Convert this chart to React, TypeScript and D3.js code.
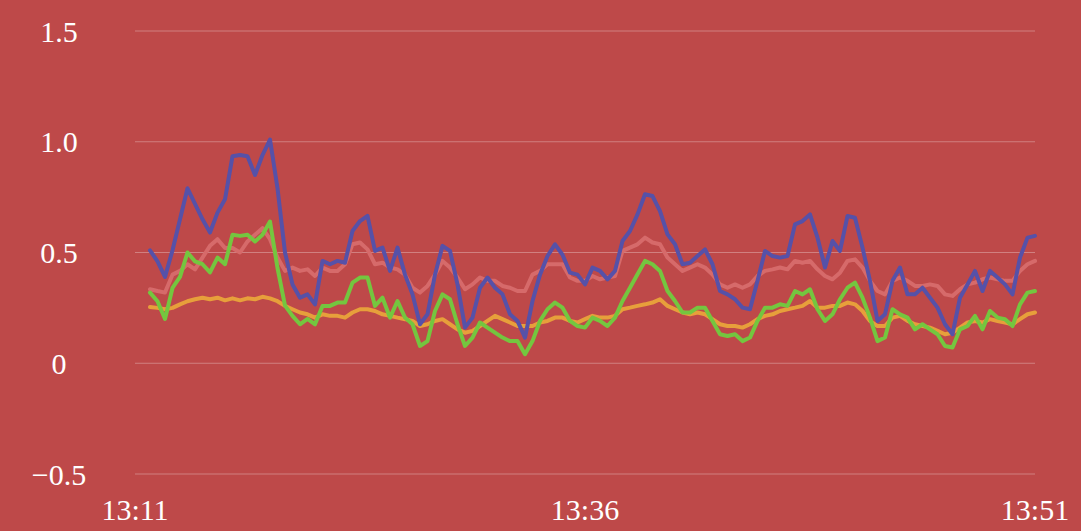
import React, { useRef, useEffect } from 'react';
import * as d3 from 'd3';

// series values, one sample every few seconds from 13:11 to 13:51
const blue = [
  0.51, 0.46, 0.39, 0.51, 0.65, 0.79, 0.72, 0.65, 0.59, 0.68, 0.74, 0.935, 0.94, 0.935, 0.85, 0.94, 1.01, 0.79,
  0.5, 0.356, 0.296, 0.311, 0.266, 0.462, 0.447, 0.462, 0.454, 0.597, 0.642, 0.665, 0.507, 0.522, 0.417, 0.522, 0.4, 0.311, 0.176, 0.221,
  0.4, 0.53, 0.507, 0.356, 0.161, 0.206, 0.341, 0.387, 0.341, 0.311, 0.221, 0.191, 0.116, 0.281, 0.4, 0.484, 0.537, 0.49, 0.409, 0.4,
  0.356, 0.432, 0.417, 0.379, 0.417, 0.552, 0.597, 0.672, 0.763, 0.755, 0.687, 0.582, 0.537, 0.447, 0.454, 0.484, 0.514, 0.447, 0.326, 0.311,
  0.289, 0.251, 0.244, 0.372, 0.507, 0.484, 0.477, 0.484, 0.627, 0.642, 0.672, 0.567, 0.432, 0.552, 0.507, 0.665, 0.657, 0.522, 0.372, 0.191,
  0.221, 0.372, 0.432, 0.311, 0.311, 0.341, 0.296, 0.251, 0.176, 0.131, 0.296, 0.356, 0.417, 0.326, 0.417, 0.387, 0.356, 0.311, 0.477, 0.567, 0.575,
];

const pink = [
  0.334, 0.326, 0.319, 0.4, 0.417, 0.447, 0.424, 0.477, 0.53, 0.56, 0.52, 0.52, 0.5, 0.55, 0.58, 0.61, 0.56, 0.477,
  0.417, 0.432, 0.417, 0.424, 0.394, 0.432, 0.417, 0.417, 0.447, 0.537, 0.545, 0.514, 0.447, 0.454, 0.432, 0.424, 0.4, 0.341, 0.319, 0.349,
  0.4, 0.462, 0.432, 0.387, 0.334, 0.356, 0.387, 0.372, 0.372, 0.349, 0.341, 0.326, 0.326, 0.4, 0.417, 0.447, 0.447, 0.447, 0.387, 0.372,
  0.372, 0.394, 0.379, 0.387, 0.394, 0.507, 0.522, 0.537, 0.567, 0.545, 0.537, 0.477, 0.447, 0.417, 0.432, 0.447, 0.432, 0.4, 0.356, 0.341,
  0.356, 0.341, 0.356, 0.394, 0.417, 0.424, 0.432, 0.424, 0.462, 0.454, 0.462, 0.424, 0.394, 0.379, 0.409, 0.462, 0.469, 0.432, 0.372, 0.326,
  0.311, 0.372, 0.387, 0.372, 0.349, 0.349, 0.356, 0.349, 0.311, 0.304, 0.334, 0.356, 0.364, 0.379, 0.387, 0.379, 0.372, 0.372, 0.417, 0.447, 0.462,
];

const green = [
  0.319, 0.28, 0.2, 0.34, 0.39, 0.5, 0.46, 0.447, 0.41, 0.477, 0.447, 0.58, 0.575, 0.58, 0.55, 0.58, 0.64, 0.43,
  0.26, 0.214, 0.176, 0.2, 0.176, 0.259, 0.259, 0.274, 0.274, 0.364, 0.387, 0.387, 0.259, 0.296, 0.206, 0.281, 0.206, 0.176, 0.078, 0.1,
  0.236, 0.311, 0.289, 0.176, 0.078, 0.116, 0.184, 0.161, 0.138, 0.116, 0.1, 0.1, 0.041, 0.1, 0.191, 0.244, 0.274, 0.251, 0.191, 0.168,
  0.161, 0.206, 0.191, 0.168, 0.206, 0.281, 0.341, 0.402, 0.462, 0.447, 0.417, 0.326, 0.281, 0.229, 0.229, 0.251, 0.251, 0.191, 0.131, 0.123,
  0.131, 0.1, 0.116, 0.191, 0.251, 0.251, 0.266, 0.259, 0.326, 0.311, 0.334, 0.244, 0.191, 0.221, 0.289, 0.341, 0.364, 0.296, 0.206, 0.1,
  0.116, 0.244, 0.221, 0.206, 0.153, 0.176, 0.153, 0.131, 0.078, 0.071, 0.153, 0.168, 0.214, 0.153, 0.236, 0.206, 0.199, 0.168, 0.266, 0.319, 0.326,
];

const orange = [
  0.254, 0.25, 0.244, 0.25, 0.266, 0.28, 0.289, 0.296, 0.289, 0.296, 0.284, 0.293, 0.284, 0.293, 0.289, 0.3, 0.293, 0.28,
  0.259, 0.244, 0.229, 0.221, 0.206, 0.221, 0.214, 0.214, 0.206, 0.229, 0.244, 0.244, 0.236, 0.221, 0.214, 0.206, 0.199, 0.191, 0.168, 0.176,
  0.191, 0.199, 0.176, 0.153, 0.138, 0.146, 0.168, 0.191, 0.214, 0.199, 0.184, 0.168, 0.168, 0.168, 0.184, 0.191, 0.206, 0.206, 0.191, 0.184,
  0.199, 0.214, 0.206, 0.206, 0.214, 0.244, 0.251, 0.259, 0.266, 0.274, 0.289, 0.259, 0.244, 0.229, 0.221, 0.229, 0.221, 0.199, 0.176, 0.168,
  0.168, 0.161, 0.176, 0.199, 0.214, 0.221, 0.236, 0.244, 0.251, 0.259, 0.281, 0.251, 0.251, 0.259, 0.259, 0.274, 0.266, 0.236, 0.191, 0.168,
  0.168, 0.206, 0.214, 0.191, 0.176, 0.168, 0.161, 0.146, 0.131, 0.138, 0.161, 0.184, 0.191, 0.184, 0.199, 0.191, 0.184, 0.176, 0.199, 0.221, 0.229,
];

const timeLabels = ['13:11', '13:36', '13:51'];
const yTicks = [-0.5, 0, 0.5, 1.0, 1.5];

const App = () => {
  const chart = useRef<SVGSVGElement>(null);

  useEffect(() => {
    const svg = d3.select(chart.current);
    svg.selectAll('*').remove();

    const width = 1081;
    const height = 531;
    const font = '"Liberation Serif", "Times New Roman", serif';

    // background
    svg.append('rect').attr('width', width).attr('height', height).attr('fill', '#be4949');

    // scales
    const y = d3.scaleLinear().domain([-0.5, 1.5]).range([474, 31]);
    const x = d3.scaleLinear().domain([0, blue.length - 1]).range([150, 1035]);
    const xLabels = d3.scalePoint().domain(timeLabels).range([135, 1035]);

    // grid lines
    svg
      .append('g')
      .selectAll('line')
      .data(yTicks)
      .enter()
      .append('line')
      .attr('x1', 135)
      .attr('x2', 1035)
      .attr('y1', (d) => y(d))
      .attr('y2', (d) => y(d))
      .attr('stroke', 'rgba(255,255,255,0.3)')
      .attr('stroke-width', 1);

    // y labels
    const fmt = d3.format('.1f');
    svg
      .append('g')
      .selectAll('text')
      .data(yTicks)
      .enter()
      .append('text')
      .attr('x', 59)
      .attr('y', (d) => y(d))
      .attr('text-anchor', 'middle')
      .attr('dominant-baseline', 'central')
      .attr('fill', '#fff')
      .style('font-family', font)
      .style('font-size', '30px')
      .text((d) => (d === 0 ? '0' : fmt(d)));

    // x labels
    svg
      .append('g')
      .selectAll('text')
      .data(timeLabels)
      .enter()
      .append('text')
      .attr('x', (d) => xLabels(d) as number)
      .attr('y', 509)
      .attr('text-anchor', 'middle')
      .attr('dominant-baseline', 'central')
      .attr('fill', '#fff')
      .style('font-family', font)
      .style('font-size', '30px')
      .text((d) => d);

    // lines
    const line = d3
      .line<number>()
      .x((d, i) => x(i))
      .y((d) => y(d));

    const series = [
      { values: orange, color: '#e79f3b' },
      { values: pink, color: '#d66a6a' },
      { values: green, color: '#74c63f' },
      { values: blue, color: '#5651a8' },
    ];

    svg
      .append('g')
      .selectAll('path')
      .data(series)
      .enter()
      .append('path')
      .attr('d', (d) => line(d.values))
      .attr('fill', 'none')
      .attr('stroke', (d) => d.color)
      .attr('stroke-width', 4)
      .attr('stroke-linejoin', 'round')
      .attr('stroke-linecap', 'round');
  }, []);

  return (
    <svg
      ref={chart}
      width={1081}
      height={531}
      style={{ position: 'absolute', top: 0, left: 0, display: 'block' }}
    />
  );
};

export default App;
